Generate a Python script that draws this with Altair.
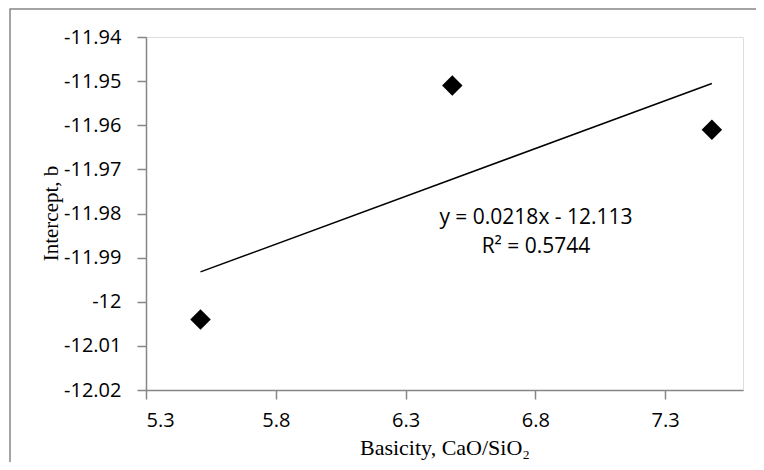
import altair as alt
import pandas as pd

# data
basicity = [5.51, 6.48, 7.48]
intercept_b = [-12.004, -11.951, -11.961]
x_ticks = [5.3, 5.8, 6.3, 6.8, 7.3]
y_ticks = [-11.94, -11.95, -11.96, -11.97, -11.98, -11.99, -12.0, -12.01, -12.02]
eq_lines = ["y = 0.0218x - 12.113", "R\u00b2 = 0.5744"]

df = pd.DataFrame({"x": basicity, "y": intercept_b})

LABEL_FONT = "Open Sans"
TITLE_FONT = "Liberation Serif"
GRAY = "#868686"

xs = alt.Scale(domain=[5.3, 7.6], nice=False, zero=False)
ys = alt.Scale(domain=[-12.02, -11.94], nice=False, zero=False)

x_axis = alt.Axis(values=x_ticks, labelExpr="'' + datum.value", grid=False,
                  domainColor=GRAY, tickColor=GRAY, tickSize=9, domainWidth=1.5, tickWidth=1.5,
                  labelFont=LABEL_FONT, labelFontSize=20, labelColor="#000", labelPadding=11,
                  titleFont=TITLE_FONT, titleFontSize=22, titleFontWeight="normal",
                  titleColor="#000", titleY=64, titleBaseline="alphabetic",
                  title="Basicity, CaO/SiO\u2082")
y_axis = alt.Axis(values=y_ticks, labelExpr="'' + datum.value", grid=False,
                  domainColor=GRAY, tickColor=GRAY, tickSize=9, domainWidth=1.5, tickWidth=1.5,
                  labelFont=LABEL_FONT, labelFontSize=20, labelColor="#000", labelPadding=16,
                  titleFont=TITLE_FONT, titleFontSize=21, titleFontWeight="normal",
                  titleColor="#000", titleX=-89, titleY=176, titleAngle=-90,
                  titleBaseline="alphabetic", title="Intercept, b")

base = alt.Chart(df)

points = base.mark_point(shape="diamond", filled=True, color="#000", size=420, opacity=1).encode(
    x=alt.X("x:Q", scale=xs, axis=x_axis),
    y=alt.Y("y:Q", scale=ys, axis=y_axis),
)

trend = base.transform_regression("x", "y", method="linear").mark_line(
    color="#000", strokeWidth=1.5).encode(x=alt.X("x:Q", scale=xs), y=alt.Y("y:Q", scale=ys))

one = pd.DataFrame({"a": [0]})
eq1 = alt.Chart(one).mark_text(font=LABEL_FONT, fontSize=21, color="#000", baseline="middle").encode(
    x=alt.value(390), y=alt.value(181), text=alt.value(eq_lines[0]))
eq2 = alt.Chart(one).mark_text(font=LABEL_FONT, fontSize=21, color="#000", baseline="middle").encode(
    x=alt.value(390), y=alt.value(210), text=alt.value(eq_lines[1]))

frame = alt.Chart(one).mark_rect(fill=None, stroke=GRAY, strokeWidth=1.5).encode(
    x=alt.value(-136), x2=alt.value(700), y=alt.value(-28), y2=alt.value(500))

chart = alt.layer(frame, trend, points, eq1, eq2).properties(
    width=597, height=353,
    autosize=alt.AutoSizeParams(type="none"),
    padding={"left": 138, "top": 29, "right": 13, "bottom": 72},
).configure_view(stroke="#000", strokeWidth=1.5).configure(background="white")

chart.save("out.html", embed_options={"renderer": "svg", "actions": False})
